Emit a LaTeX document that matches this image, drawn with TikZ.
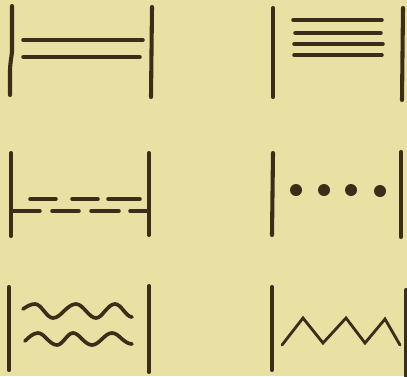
\documentclass[tikz,border=0pt]{standalone}
\usepackage{xcolor}
\usepackage{tikz}
\definecolor{figpaper}{RGB}{233,224,163}
\definecolor{figink}{RGB}{58,45,25}
\tikzset{
  bar/.style   ={draw=figink, line width=2.9pt, line cap=round},
  rule/.style  ={draw=figink, line width=2.5pt, line cap=round},
  wave/.style  ={draw=figink, line width=2.6pt, line cap=round},
  zig/.style   ={draw=figink, line width=2pt, line cap=round, line join=miter},
  spot/.style  ={fill=figink},
}

\begin{document}
\begin{tikzpicture}[x=0.025cm,y=-0.025cm]
  \fill[figpaper] (0,0) rectangle (407,376);
  \useasboundingbox (0,0) rectangle (407,376);
  % top left: two lines
  \draw[bar] (12,6) -- (12,52) .. controls (11,60) and (10,64) .. (10,72) -- (10,95);
  \draw[bar] (152,7) -- (151,97);
  \draw[rule] (23,40) -- (143,40);
  \draw[rule] (23,57) -- (140,57);
  % top right: four lines
  \draw[bar] (273,8) -- (273,97);
  \draw[bar] (403,8) -- (402,100);
  \draw[rule] (293,20) -- (382,20);
  \draw[rule] (295,33) -- (381,33);
  \draw[rule] (294,44) -- (383,44);
  \draw[rule] (294,55) -- (382,55);
  % middle left: dashes
  \draw[bar] (11,153) -- (11,236);
  \draw[bar] (149,153) -- (149,235);
  \draw[rule] (30,199) -- (56,199);
  \draw[rule] (72,199) -- (98,199);
  \draw[rule] (108,199) -- (140,199);
  \draw[rule] (11,211) -- (40,211);
  \draw[rule] (52,211) -- (79,211);
  \draw[rule] (91,211) -- (119,211);
  \draw[rule] (130,211) -- (149,211);
  % middle right: dots
  \draw[bar] (273,153) -- (272,235);
  \draw[bar] (401,152) -- (401,237);
  \fill[spot] (296,190) circle (6);
  \fill[spot] (324,190) circle (6);
  \fill[spot] (351,190) circle (6);
  \fill[spot] (380,191) circle (6);
  % bottom left: waves
  \draw[bar] (9,287) -- (9,370);
  \draw[bar] (149,286) -- (149,372);
  \draw[wave] (23,309) sin (35,304) cos (44,311) sin (53,318) cos (64,311)
    sin (76,304) cos (86,311) sin (96,318) cos (105,311) sin (115,304)
    cos (124,311) sin (132,317);
  \draw[wave] (25,341) sin (38,333) cos (47,339) sin (57,345) cos (65,339)
    sin (73,333) cos (82,339) sin (92,345) cos (102,339) sin (112,333)
    cos (122,339) sin (132,344);
  % bottom right: zigzag
  \draw[bar] (272,287) -- (272,370);
  \draw[bar] (406,290) -- (406,376);
  \draw[zig] (282,345) -- (303,318) -- (323,343) -- (346,318) -- (365,343)
    -- (385,319) -- (400,345);
\end{tikzpicture}
\end{document}
